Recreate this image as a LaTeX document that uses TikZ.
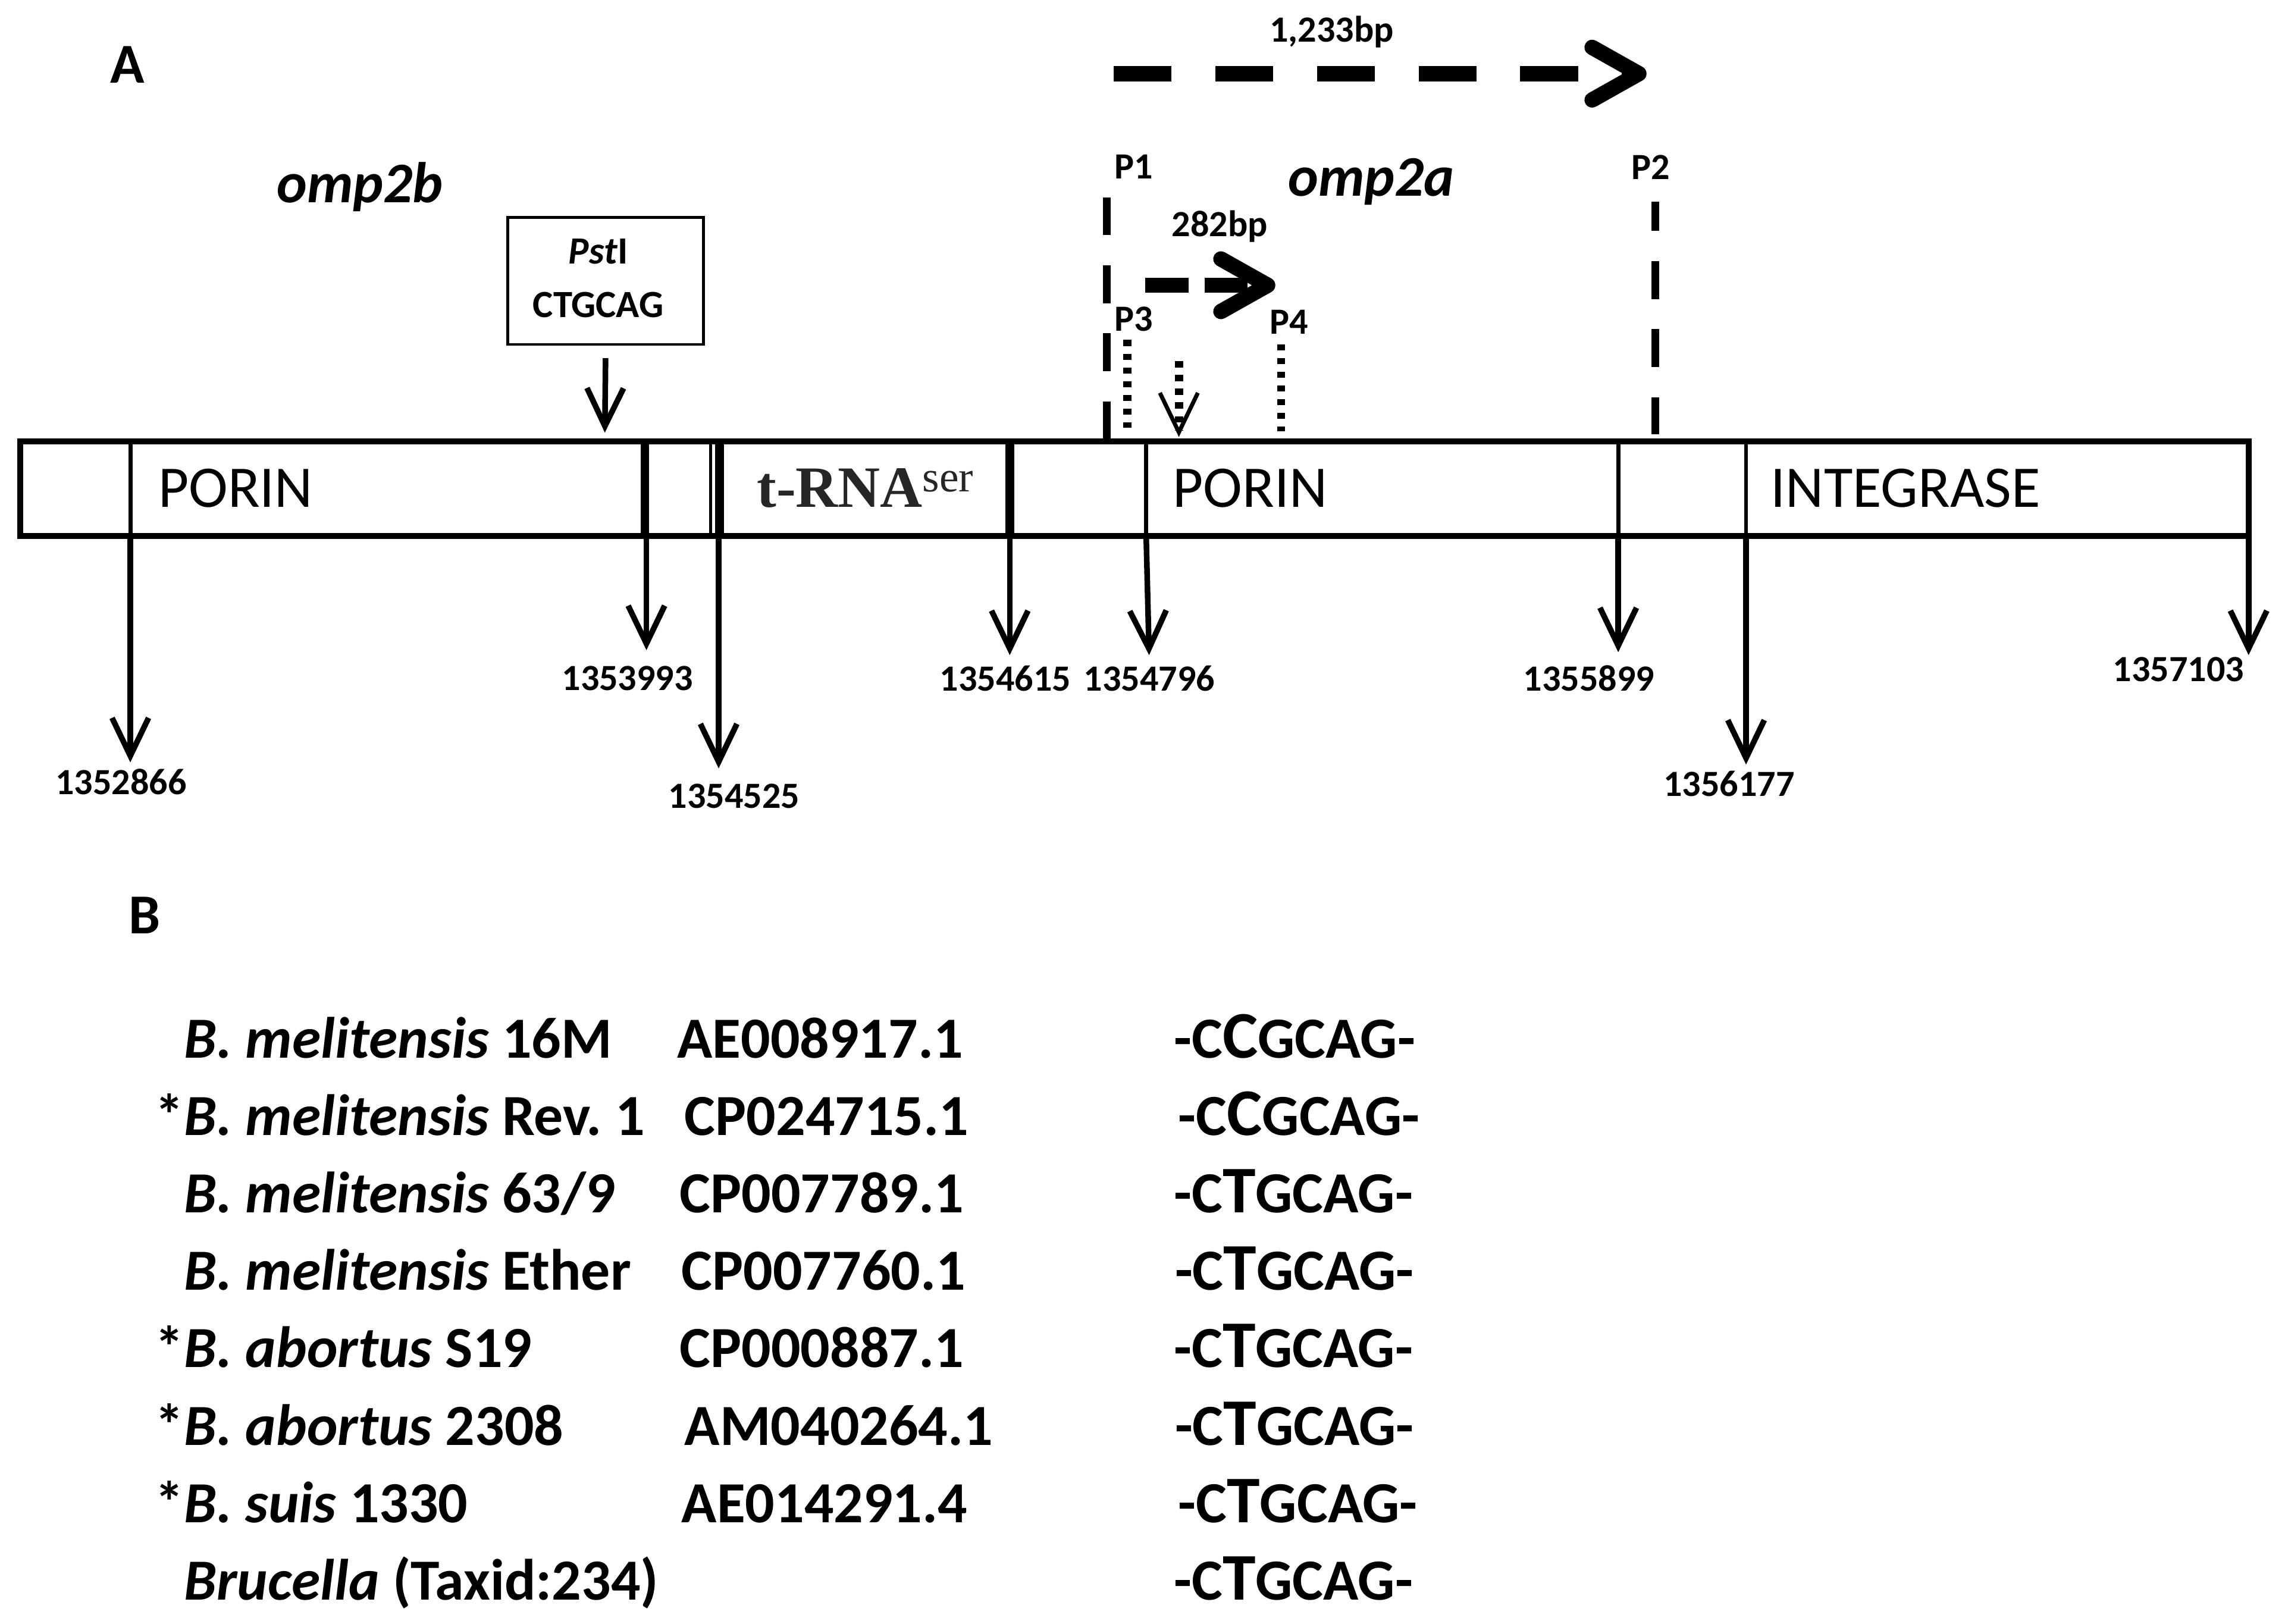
\documentclass[tikz,border=0pt]{standalone}
\usepackage{fontspec}
\setmainfont{Carlito}
\newfontfamily\trnafont{Liberation Serif}
\usetikzlibrary{arrows.meta}

\tikzset{
  panel/.style={anchor=base west, inner sep=0pt, font=\bfseries\fontsize{11}{13}\selectfont},
  gene/.style={anchor=base west, inner sep=0pt, font=\fontsize{11.5}{13}\selectfont},
  locus/.style={anchor=base west, inner sep=0pt, font=\bfseries\itshape\fontsize{11.2}{13}\selectfont},
  primer/.style={anchor=base west, inner sep=0pt, font=\bfseries\fontsize{7.2}{8}\selectfont},
  coord/.style={inner sep=0pt, font=\bfseries\fontsize{7.2}{8}\selectfont},
  entry/.style={anchor=base west, inner sep=0pt, font=\bfseries\fontsize{11.35}{13}\selectfont},
  posarrow/.style={line width=1.1pt, -{Straight Barb[length=2.6mm,width=2.5mm]}},
  pline/.style={line width=1.5pt, dash pattern=on 2.6mm off 2.06mm},
  dotline/.style={line width=1.6pt, dash pattern=on 0.42mm off 0.52mm},
  ampl/.style={line width=3pt, -{Straight Barb[length=3.2mm,width=3.6mm,round]}},
}

\newcommand\hlbase[1]{{\fontsize{13}{13}\selectfont #1}}

\begin{document}
\begin{tikzpicture}[x=0.01cm,y=-0.01cm]
    \useasboundingbox (0,0) rectangle (1568,1113);

    % Panel A
    \node[panel] (panA) at (75,56.8) {A};

    % Amplicons
    \draw[ampl, dash pattern=on 3.96mm off 3mm] (763.3,50.5) -- (1128.4,50.5);
    \node[primer] (long) at (869.4,28.7) {1,233bp};
    \draw[ampl, dash pattern=on 2.96mm off 1.09mm] (785,195.5) -- (874,195.5);
    \node[primer] (short) at (802.3,162.2) {282bp};

    % Primers
    \node[primer] (p1) at (763.3,122.7) {P1};
    \node[primer] (p2) at (1117.4,123) {P2};
    \node[primer] (p3) at (763.3,226.7) {P3};
    \node[primer] (p4) at (869.4,228.8) {P4};
    \draw[pline] (758.6,135.2) -- (758.6,300.6);
    \draw[pline, dash phase=0.6mm] (1134.6,138.3) -- (1134.6,297.5);
    \draw[dotline] (772.6,233) -- (772.6,293);
    \draw[dotline] (878,236) -- (878,295.4);
    \draw[dotline, -{Straight Barb[length=2.7mm,width=2.6mm,line width=0.8pt]}] (807.9,247.6) -- (807.9,299.5);

    \node[locus] (omp2b) at (189,139) {omp2b};
    \node[locus] (omp2a) at (882,134.2) {omp2a};

    % PstI site
    \node[draw, line width=0.5pt, minimum width=1.34cm, minimum height=0.87cm, inner sep=0pt] (pstbox) at (415,192.5) {};
    \node[coord, anchor=base, font=\bfseries\fontsize{7.5}{8}\selectfont] (pst) at (410,181) {\textit{Pst}I};
    \node[coord, anchor=base, font=\bfseries\fontsize{7.5}{8}\selectfont] (site) at (410,217.5) {CTGCAG};
    \coordinate (cut) at (414.5,296.5);
    \draw[posarrow] ([yshift=-0.86mm]pstbox.south) -- (cut);

    % Chromosome
    \draw[line width=1.15pt] (13.9,302.7) rectangle (1541,367.5);
    \foreach \x in {89.4,785.5,1109,1196.6}
        \draw[line width=0.8pt] (\x,302.7) -- (\x,367.5);
    \foreach \x in {442,493,692}
        \draw[line width=1.7pt] (\x,302.7) -- (\x,367.5);
    \draw[line width=0.5pt] (487,302.7) -- (487,367.5);

    \node[gene] (porinb) at (107.8,347.5) {PORIN};
    \node[gene, font=\trnafont\bfseries\fontsize{11.4}{13}\selectfont, text=black!85] (trna) at (518,347.5)
        {t-RNA\raisebox{3pt}{\mdseries\fontsize{8.5}{9}\selectfont ser}};
    \node[gene] (porina) at (803,347.5) {PORIN};
    \node[gene] (integrase) at (1213,347.5) {INTEGRASE};

    % Positions
    \foreach \xa/\xb/\tip/\lx/\ly/\num in {
        89.3/89.3/522.5/83/535.7/1352866,
        443/443/445.6/430/465/1353993,
        492.5/492.5/526.6/503/545.7/1354525,
        692/692/449/689/465/1354615,
        785.5/787.5/449/787.7/465/1354796,
        1109/1109/447/1089/465/1355899,
        1196.6/1196.6/524/1185/537/1356177,
        1541/1541/449/1493/459/1357103} {
        \node[coord] (n\num) at (\lx,\ly) {\num};
        \coordinate (top\num) at (\xa,367.5);
        \coordinate (tip\num) at (\xb,\tip);
        \draw[posarrow] (top\num) -- (tip\num);
    }

    % Panel B
    \node[panel] (panB) at (87.6,640) {B};

    \foreach \sp/\mx/\nt [count=\r] in {
        {\textit{B. melitensis} 16M}/803.8/C,
        {\llap{*}\textit{B. melitensis} Rev.\ 1}/806.8/C,
        {\textit{B. melitensis} 63/9}/803.8/T,
        {\textit{B. melitensis} Ether}/804.5/T,
        {\llap{*}\textit{B. abortus} S19}/803.8/T,
        {\llap{*}\textit{B. abortus} 2308}/804.5/T,
        {\llap{*}\textit{B. suis} 1330}/806.8/T,
        {\textit{Brucella} (Taxid:234)}/803.8/T} {
        \pgfmathsetmacro\yb{725+53.07*(\r-1)}
        \node[entry] (sp\r) at (125.5,\yb) {\sp};
        \node[entry] (seq\r) at (\mx,\yb) {-C\hlbase{\nt}GCAG-};
    }

    \foreach \ax/\acc [count=\r] in {
        463.4/AE008917.1, 468.5/CP024715.1, 465.2/CP007789.1, 466.4/CP007760.1,
        465.2/CP000887.1, 468.5/AM040264.1, 466.4/AE014291.4} {
        \pgfmathsetmacro\yb{725+53.07*(\r-1)}
        \node[entry] (acc\r) at (\ax,\yb) {\acc};
    }
\end{tikzpicture}
\end{document}
